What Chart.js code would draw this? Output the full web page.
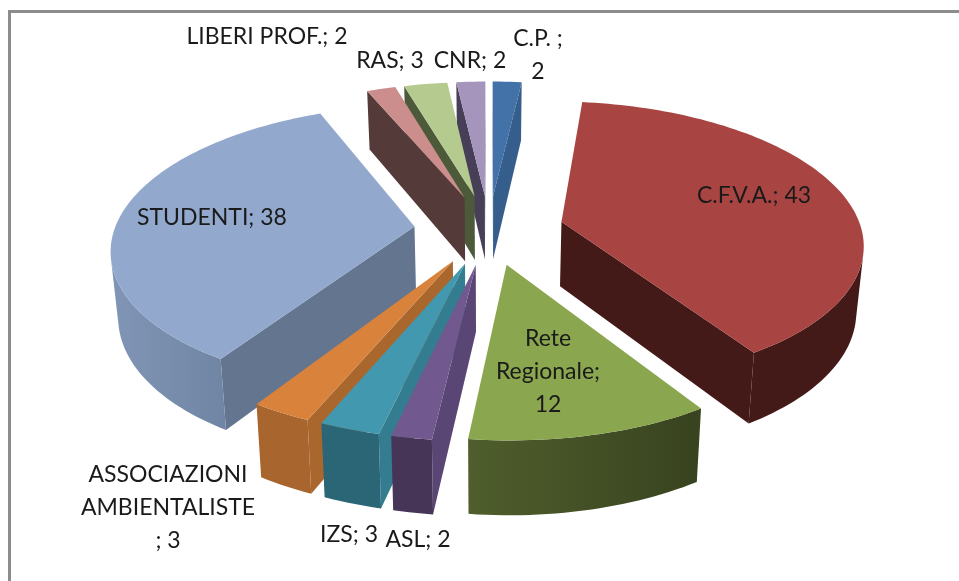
<!DOCTYPE html>
<html>
<head>
<meta charset="utf-8">
<title>Pie</title>
<script src="https://cdn.jsdelivr.net/npm/chart.js@4/dist/chart.umd.js"></script>
<style>
    html, body { margin: 0; padding: 0; background: #fff; }
    canvas { display: block; }
</style>
</head>
<body>
<canvas id="pieChart" width="959" height="581"></canvas>
<script>
const categories = ["C.P.", "C.F.V.A.", "Rete Regionale", "ASL", "IZS", "ASSOCIAZIONI AMBIENTALISTE", "STUDENTI", "LIBERI PROF.", "RAS", "CNR"];
const values = [2, 43, 12, 2, 3, 3, 38, 2, 3, 2];
const labelLines = [["C.P. ;", "2"], ["C.F.V.A.; 43"], ["Rete", "Regionale;", "12"], ["ASL; 2"], ["IZS; 3"],
    ["ASSOCIAZIONI", "AMBIENTALISTE", "; 3"], ["STUDENTI; 38"], ["LIBERI PROF.; 2"], ["RAS; 3"], ["CNR; 2"]];

const topColors = ["#4372a8", "#a84543", "#8aa64e", "#71588f", "#4198af", "#d9823b", "#92a8cd", "#cc8e8d", "#b5ca8e", "#a595bd"];
const sideColors = ["#365e8c", "#441a18", "#3a4520", "#5a4675", "#347c90", "#a9672e", "#647590", "#553a3a", "#4d5a3a", "#463f57"];
const wallLeft = ["#365e8c", "#441a18", "#4f5e2c", "#473557", "#2b6676", "#a8652d", "#8196b6", "#553a3a", "#4d5a3a", "#463f57"];
const wallRight = ["#365e8c", "#441a18", "#38431f", "#473557", "#2b6676", "#a8652d", "#7084a3", "#553a3a", "#4d5a3a", "#463f57"];

// label centre x, first line y
const labelPos = [[538, 39], [754, 196], [548, 339], [418, 540], [349, 535], [168, 475], [212, 218], [267, 37], [390, 61], [470, 61]];
const lineHeight = 33;

// view of the tilted pie
const radius = 300;
const reach = 378;
const tilt = 0.465;
const persp = 0.18;
const depth = 65;
const shrink = 0.98;
const liftY = 61;

function project(cx, cy, X, Y, bottom) {
    const w = 1 / (1 - persp * Y / reach);
    if (bottom) {
        return [cx + X * w * shrink, cy + tilt * Y * w * shrink + depth * w];
    }
    return [cx + X * w, cy + tilt * Y * w];
}

function area(pts) {
    let s = 0;
    pts.forEach(function (p, i) {
        const q = pts[(i + 1) % pts.length];
        s += p[0] * q[1] - q[0] * p[1];
    });
    return s;
}

function fillPoly(ctx, pts, color) {
    ctx.beginPath();
    pts.forEach(function (p, i) {
        if (i === 0) ctx.moveTo(p[0], p[1]);
        else ctx.lineTo(p[0], p[1]);
    });
    ctx.closePath();
    ctx.fillStyle = color;
    ctx.fill();
}

function drawSlice(ctx, arc, i) {
    const cx = arc.x;
    const cy = arc.y - liftY;
    const a0 = arc.startAngle;
    const a1 = arc.endAngle;
    const mid = (a0 + a1) / 2;
    const ox = Math.cos(mid) * arc.options.offset;
    const oy = Math.sin(mid) * arc.options.offset;

    const steps = Math.max(4, Math.ceil((a1 - a0) * 40));
    const rim = [];
    for (let s = 0; s <= steps; s++) {
        const a = a0 + (a1 - a0) * s / steps;
        rim.push([ox + Math.cos(a) * radius, oy + Math.sin(a) * radius]);
    }
    const top = function (p) { return project(cx, cy, p[0], p[1], false); };
    const bot = function (p) { return project(cx, cy, p[0], p[1], true); };
    const tip = [ox, oy];

    // flat sides of the wedge
    const first = [top(tip), top(rim[0]), bot(rim[0]), bot(tip)];
    const last = [top(rim[steps]), top(tip), bot(tip), bot(rim[steps])];
    if (area(first) < 0) fillPoly(ctx, first, sideColors[i]);
    if (area(last) < 0) fillPoly(ctx, last, sideColors[i]);

    // round outer wall, only the part facing us
    let upper = [];
    let lower = [];
    for (let s = 0; s < steps; s++) {
        const quad = [top(rim[s]), top(rim[s + 1]), bot(rim[s + 1]), bot(rim[s])];
        if (area(quad) < 0) {
            if (upper.length === 0) {
                upper.push(quad[0]);
                lower.push(quad[3]);
            }
            upper.push(quad[1]);
            lower.push(quad[2]);
        }
    }
    if (upper.length > 0) {
        const wall = upper.concat(lower.reverse());
        const xs = wall.map(function (p) { return p[0]; });
        const g = ctx.createLinearGradient(Math.min.apply(null, xs), 0, Math.max.apply(null, xs), 0);
        g.addColorStop(0, wallLeft[i]);
        g.addColorStop(1, wallRight[i]);
        fillPoly(ctx, wall, g);
    }

    fillPoly(ctx, [top(tip)].concat(rim.map(top)), arc.options.backgroundColor);
}

const pie3d = {
    id: "pie3d",
    beforeDatasetDraw: function (chart) {
        const ctx = chart.ctx;
        const arcs = chart.getDatasetMeta(0).data;
        const order = arcs.map(function (a, i) { return i; });
        // back slices first
        order.sort(function (p, q) {
            return Math.sin((arcs[p].startAngle + arcs[p].endAngle) / 2) - Math.sin((arcs[q].startAngle + arcs[q].endAngle) / 2);
        });
        ctx.save();
        order.forEach(function (i) { drawSlice(ctx, arcs[i], i); });
        ctx.restore();
        return false;
    },
    afterDraw: function (chart) {
        const ctx = chart.ctx;
        ctx.save();
        ctx.fillStyle = "#8c8c8c";
        ctx.fillRect(8, 10, 951, 3);
        ctx.fillRect(8, 10, 3, 571);
        ctx.fillStyle = "#1a1a1a";
        ctx.font = "23px Lato";
        ctx.textAlign = "center";
        ctx.textBaseline = "middle";
        labelLines.forEach(function (lines, i) {
            lines.forEach(function (line, n) {
                ctx.fillText(line, labelPos[i][0], labelPos[i][1] + n * lineHeight);
            });
        });
        ctx.restore();
    }
};

new Chart(document.getElementById("pieChart").getContext("2d"), {
    type: "pie",
    data: {
        labels: categories,
        datasets: [
            {
                data: values,
                backgroundColor: topColors,
                borderWidth: 0,
                offset: 75
            }
        ]
    },
    options: {
        responsive: false,
        animation: false,
        layout: { padding: { left: 19 } },
        plugins: {
            legend: { display: false },
            tooltip: { enabled: false }
        }
    },
    plugins: [pie3d]
});
</script>
</body>
</html>
